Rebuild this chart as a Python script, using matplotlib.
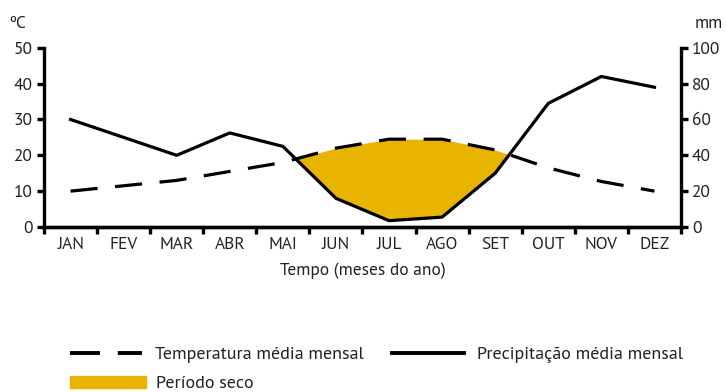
import numpy as np
import matplotlib
matplotlib.use("Agg")
import matplotlib.pyplot as plt
from matplotlib.lines import Line2D
from matplotlib.patches import Patch

plt.rcParams["font.family"] = ["PT Sans", "DejaVu Sans"]

months = ["JAN", "FEV", "MAR", "ABR", "MAI", "JUN", "JUL", "AGO", "SET", "OUT", "NOV", "DEZ"]
temperatura = [10, 11.5, 13, 15.5, 18, 22, 24.5, 24.5, 21.5, 16.5, 12.7, 10]   # °C
precipitacao = [60, 50, 40, 52.5, 45, 16, 3.5, 5.5, 30, 69, 84, 78]          # mm

dry_color = "#E8B400"
txt_color = "#222222"
fs = 12.5
fs_leg = 13

x = np.arange(len(months)) + 0.5
temp = np.array(temperatura)
prec_c = np.array(precipitacao) / 2.0   # precip on the °C scale (1 °C = 2 mm)

fig = plt.figure(figsize=(7.26, 3.92), dpi=100)
ax = fig.add_axes([0.0606, 0.421, 0.8774, 0.457])

# dry period
ax.fill_between(x, prec_c, temp, where=temp > prec_c, interpolate=True,
                color=dry_color, lw=0, zorder=1)
ax.plot(x, temp, color="black", lw=2.3, dashes=(8.5, 5.5), zorder=3)
ax.plot(x, prec_c, color="black", lw=2.3, zorder=3)

ax.set_xlim(0, 12)
ax.set_ylim(0, 50)
ax.set_yticks(range(0, 51, 10))
ax.set_xticks(range(0, 13))
ax.set_xticklabels([])
ax.set_xticks(x, minor=True)
ax.set_xticklabels(months, minor=True)
ax.tick_params(axis="x", which="minor", length=0, pad=7, labelsize=fs, labelcolor=txt_color)
ax.tick_params(axis="x", which="major", length=5, width=2.4, direction="out")
ax.tick_params(axis="y", length=5, width=2.4, direction="out", labelsize=fs, pad=3,
               labelcolor=txt_color)

ax2 = ax.twinx()
ax2.set_ylim(0, 100)
ax2.set_yticks(range(0, 101, 20))
ax2.tick_params(axis="y", length=5, width=2.4, direction="out", labelsize=fs, pad=3,
                labelcolor=txt_color)

for a in (ax, ax2):
    a.spines["top"].set_visible(False)
    for s in ("left", "right", "bottom"):
        a.spines[s].set_linewidth(2.4)
ax.spines["right"].set_visible(False)
ax2.spines["left"].set_visible(False)

ax.set_xlabel("Tempo (meses do ano)", fontsize=fs, labelpad=7, color=txt_color)
fig.text(0.013, 0.94, "ºC", fontsize=fs, ha="left", va="center", color=txt_color)
fig.text(0.957, 0.94, "mm", fontsize=fs, ha="left", va="center", color=txt_color)

handles1 = [Line2D([], [], color="black", lw=2.8, dashes=(7.7, 4.6)),
            Line2D([], [], color="black", lw=2.8)]
labels1 = ["Temperatura média mensal", "Precipitação média mensal"]
fig.legend(handles1, labels1, loc="center left", bbox_to_anchor=(0.096, 0.094),
           ncol=2, frameon=False, fontsize=fs_leg, handlelength=4.0,
           handletextpad=0.72, columnspacing=1.55, borderpad=0, borderaxespad=0,
           labelcolor=txt_color)
fig.legend([Patch(color=dry_color)], ["Período seco"], loc="center left",
           bbox_to_anchor=(0.096, 0.02), frameon=False, fontsize=fs_leg,
           handlelength=4.2, handleheight=0.65, handletextpad=0.6,
           borderpad=0, borderaxespad=0, labelcolor=txt_color)

fig.savefig("out.png", dpi=100)
